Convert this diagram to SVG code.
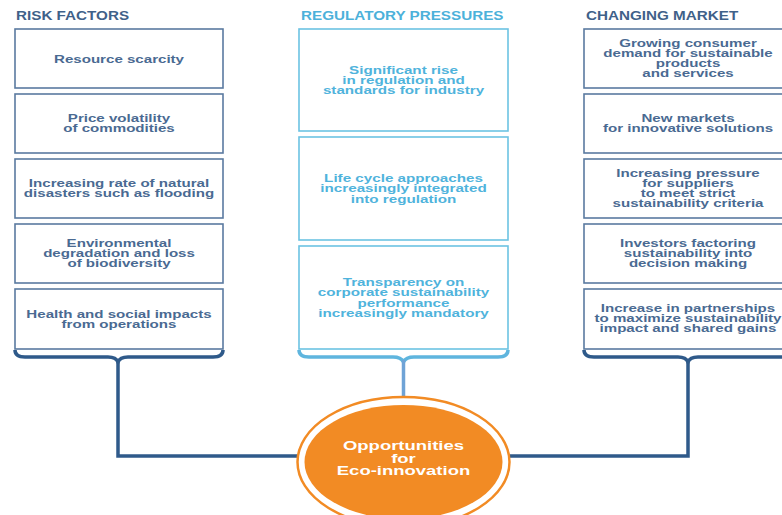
<svg xmlns="http://www.w3.org/2000/svg" width="782" height="515" viewBox="0 0 782 515">
<style>
.bg{fill:#ffffff}
.title{font-family:"Liberation Sans",Arial,sans-serif;font-weight:bold;font-size:12px}
.dk{fill:#3f6189}
.lt{fill:#4cb1da}
.box{fill:#ffffff;stroke-width:1.6}
.boxd{stroke:#5a7aa0}
.boxl{stroke:#6cc3e3}
.t{font-family:"Liberation Sans",Arial,sans-serif;font-weight:bold;font-size:10px;text-anchor:middle}
.td{fill:#4a6a92}
.tl{fill:#4fb3dc}
.conn{fill:none;stroke-width:3.5;stroke-linejoin:miter}
.cd{stroke:#2f5a8a}
.cl{stroke:#5fb5de}
.cs{stroke:#6fa3d6}
.ct{font-family:"Liberation Sans",Arial,sans-serif;font-weight:bold;font-size:12px;text-anchor:middle;fill:#ffffff}
</style>
<rect class="bg" x="0" y="0" width="782" height="515"/>

<g id="titles">
<text class="title dk" transform="translate(16 20) scale(1.27 1)">RISK FACTORS</text>
<text class="title lt" transform="translate(301 20) scale(1.27 1)">REGULATORY PRESSURES</text>
<text class="title dk" transform="translate(586 20) scale(1.27 1)">CHANGING MARKET</text>
</g>

<g id="connectors">
<path class="conn cd" d="M15,350 Q15,357 25,357 L108,357 Q116,357 118,362 Q120,357 128,357 L213,357 Q223,357 223,350"/>
<path class="conn cd" d="M118,360 L118,456 L302,456"/>
<path class="conn cl" d="M299,350 Q299,357 309,357 L393,357 Q401,357 403.5,362 Q406,357 414,357 L498,357 Q508,357 508,350"/>
<path class="conn cs" d="M403.5,360 L403.5,398"/>
<path class="conn cd" d="M584,350 Q584,357 594,357 L678,357 Q686,357 688,362 Q690,357 698,357 L782,357"/>
<path class="conn cd" d="M688,360 L688,456 L506,456"/>
</g>

<g id="risk1"><rect class="box boxd" x="15" y="29" width="208" height="59"/>
<text class="t td" transform="translate(119 0) scale(1.51 1)"><tspan x="0" y="63">Resource scarcity</tspan></text></g>
<g id="risk2"><rect class="box boxd" x="15" y="94" width="208" height="59"/>
<text class="t td" transform="translate(119 0) scale(1.51 1)"><tspan x="0" y="122">Price volatility</tspan><tspan x="0" y="132">of commodities</tspan></text></g>
<g id="risk3"><rect class="box boxd" x="15" y="159" width="208" height="59"/>
<text class="t td" transform="translate(119 0) scale(1.51 1)"><tspan x="0" y="187">Increasing rate of natural</tspan><tspan x="0" y="197">disasters such as flooding</tspan></text></g>
<g id="risk4"><rect class="box boxd" x="15" y="224" width="208" height="59"/>
<text class="t td" transform="translate(119 0) scale(1.51 1)"><tspan x="0" y="247">Environmental</tspan><tspan x="0" y="257">degradation and loss</tspan><tspan x="0" y="267">of biodiversity</tspan></text></g>
<g id="risk5"><rect class="box boxd" x="15" y="289" width="208" height="60"/>
<text class="t td" transform="translate(119 0) scale(1.51 1)"><tspan x="0" y="318">Health and social impacts</tspan><tspan x="0" y="328">from operations</tspan></text></g>

<g id="reg1"><rect class="box boxl" x="299" y="29" width="209" height="102"/>
<text class="t tl" transform="translate(403.5 0) scale(1.52 1)"><tspan x="0" y="74">Significant rise</tspan><tspan x="0" y="84">in regulation and</tspan><tspan x="0" y="94">standards for industry</tspan></text></g>
<g id="reg2"><rect class="box boxl" x="299" y="137" width="209" height="103"/>
<text class="t tl" transform="translate(403.5 0) scale(1.52 1)"><tspan x="0" y="182">Life cycle approaches</tspan><tspan x="0" y="192.5">increasingly integrated</tspan><tspan x="0" y="203">into regulation</tspan></text></g>
<g id="reg3"><rect class="box boxl" x="299" y="246" width="209" height="103"/>
<text class="t tl" transform="translate(403.5 0) scale(1.52 1)"><tspan x="0" y="286">Transparency on</tspan><tspan x="0" y="296.5">corporate sustainability</tspan><tspan x="0" y="307">performance</tspan><tspan x="0" y="317">increasingly mandatory</tspan></text></g>

<g id="mkt1"><rect class="box boxd" x="584" y="29" width="210" height="59"/>
<text class="t td" transform="translate(688 0) scale(1.51 1)"><tspan x="0" y="47">Growing consumer</tspan><tspan x="0" y="57">demand for sustainable</tspan><tspan x="0" y="67">products</tspan><tspan x="0" y="77">and services</tspan></text></g>
<g id="mkt2"><rect class="box boxd" x="584" y="94" width="210" height="59"/>
<text class="t td" transform="translate(688 0) scale(1.51 1)"><tspan x="0" y="122">New markets</tspan><tspan x="0" y="132">for innovative solutions</tspan></text></g>
<g id="mkt3"><rect class="box boxd" x="584" y="159" width="210" height="59"/>
<text class="t td" transform="translate(688 0) scale(1.51 1)"><tspan x="0" y="177">Increasing pressure</tspan><tspan x="0" y="187">for suppliers</tspan><tspan x="0" y="197">to meet strict</tspan><tspan x="0" y="207">sustainability criteria</tspan></text></g>
<g id="mkt4"><rect class="box boxd" x="584" y="224" width="210" height="59"/>
<text class="t td" transform="translate(688 0) scale(1.51 1)"><tspan x="0" y="247">Investors factoring</tspan><tspan x="0" y="257">sustainability into</tspan><tspan x="0" y="267">decision making</tspan></text></g>
<g id="mkt5"><rect class="box boxd" x="584" y="289" width="210" height="60"/>
<text class="t td" transform="translate(688 0) scale(1.51 1)"><tspan x="0" y="312">Increase in partnerships</tspan><tspan x="0" y="322">to maximize sustainability</tspan><tspan x="0" y="332">impact and shared gains</tspan></text></g>

<g id="opportunities">
<ellipse cx="403.5" cy="462" rx="106" ry="65" fill="#ffffff" stroke="#f28b24" stroke-width="2.5"/>
<ellipse cx="403.5" cy="462" rx="99" ry="57" fill="#f28b24"/>
<text class="ct" transform="translate(403.5 0) scale(1.54 1)"><tspan x="0" y="450">Opportunities</tspan><tspan x="0" y="463">for</tspan><tspan x="0" y="475">Eco-innovation</tspan></text>
</g>
</svg>
